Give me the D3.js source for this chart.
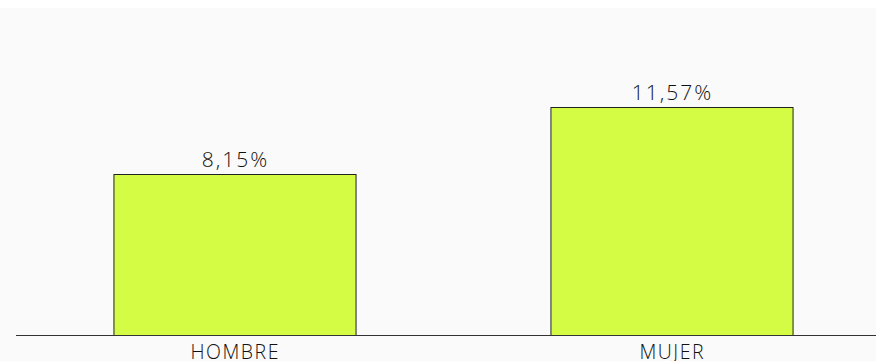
<!DOCTYPE html>
<html>
<head>
<meta charset="utf-8">
<script src="https://cdn.jsdelivr.net/npm/d3@7"></script>
<style>
  body { margin: 0; background: #ffffff; }
  text { font-family: "Open Sans", sans-serif; fill: #111; font-weight: 300; }
</style>
</head>
<body>
<div id="chart"></div>
<script>
// Data
const categories = ['HOMBRE', 'MUJER'];
const values = [8.15, 11.57];
const valueLabels = ['8,15%', '11,57%'];

const width = 876;
const height = 361;
const baseY = 335;

const svg = d3.select('#chart')
    .append('svg')
    .attr('width', width)
    .attr('height', height);

// light grey plot background
svg.append('rect')
    .attr('x', 0)
    .attr('y', 8)
    .attr('width', width)
    .attr('height', height - 8)
    .attr('fill', '#fafafa');

const x = d3.scaleBand()
    .domain(categories)
    .range([16, 890])
    .paddingInner(0.446)
    .paddingOuter(0.223);

const y = d3.scaleLinear()
    .domain([0, 16.6])
    .range([baseY, 8]);

// bars
svg.selectAll('.bar')
    .data(values)
    .enter()
    .append('rect')
    .attr('class', 'bar')
    .attr('x', (d, i) => x(categories[i]) + 0.5)
    .attr('y', d => Math.round(y(d)) + 0.5)
    .attr('width', x.bandwidth())
    .attr('height', d => baseY - Math.round(y(d)))
    .attr('fill', '#d4fc44')
    .attr('stroke', '#222')
    .attr('stroke-width', 1);

// baseline
svg.append('line')
    .attr('x1', 16)
    .attr('x2', width)
    .attr('y1', baseY + 0.5)
    .attr('y2', baseY + 0.5)
    .attr('stroke', '#333')
    .attr('stroke-width', 1);

// value labels
svg.selectAll('.val')
    .data(values)
    .enter()
    .append('text')
    .attr('class', 'val')
    .attr('x', (d, i) => x(categories[i]) + x.bandwidth() / 2 + 1)
    .attr('y', d => Math.round(y(d)) - 7)
    .attr('text-anchor', 'middle')
    .style('font-size', '21px')
    .style('letter-spacing', '2px')
    .text((d, i) => valueLabels[i]);

// category labels
svg.selectAll('.cat')
    .data(categories)
    .enter()
    .append('text')
    .attr('class', 'cat')
    .attr('x', d => x(d) + x.bandwidth() / 2 + 0.75)
    .attr('y', 359)
    .attr('text-anchor', 'middle')
    .style('font-size', '19.5px')
    .style('letter-spacing', '1.5px')
    .text(d => d);
</script>
</body>
</html>
